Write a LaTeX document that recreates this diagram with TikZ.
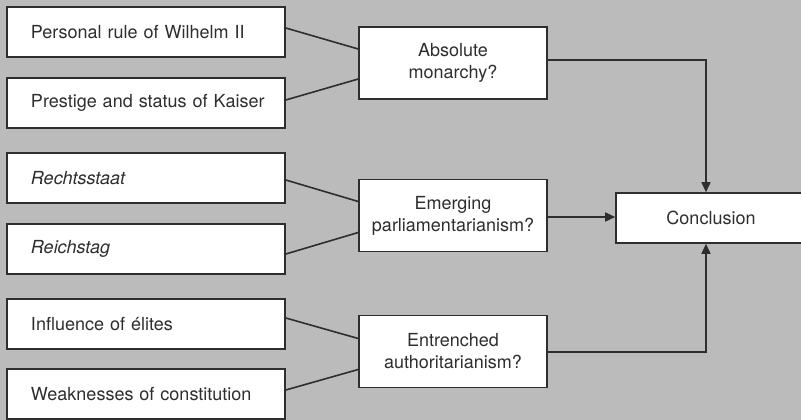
\documentclass[tikz,border=0pt]{standalone}
\usepackage{fontspec}
\setmainfont{TeX Gyre Heros}
\usetikzlibrary{arrows.meta,calc}
\definecolor{bg}{HTML}{BBBBBB}
\definecolor{ink}{HTML}{2E2E2E}
\begin{document}
\begin{tikzpicture}[x=1pt,y=-1pt,
  font=\fontsize{18}{22}\selectfont,
  every node/.style={text=ink},
  factor/.style={draw=ink,line width=1.6pt,fill=white,minimum height=50pt,
    text width=254pt,inner xsep=12pt,align=left,anchor=center,
    execute at begin node={\hspace*{12pt}}},
  question/.style={draw=ink,line width=1.6pt,fill=white,minimum width=188pt,
    minimum height=72pt,align=center,anchor=center},
  result/.style={draw=ink,line width=1.6pt,fill=white,minimum width=190pt,
    minimum height=50pt,align=center,anchor=center},
  link/.style={draw=ink,line width=1.6pt},
  flow/.style={draw=ink,line width=1.6pt,-{Triangle[length=10pt,width=9pt]}}]
  % background and frame
  \fill[bg] (0,0) rectangle (801,420);
  \useasboundingbox (0,0) rectangle (801,420);
  \clip (0,0) rectangle (801,420);

  % factors
  \node[factor] (b1) at (146,32)  {Personal rule of Wilhelm II};
  \node[factor] (b2) at (146,103) {Prestige and status of Kaiser};
  \node[factor] (b3) at (146,178) {\itshape Rechtsstaat};
  \node[factor] (b4) at (146,249) {\itshape Reichstag};
  \node[factor] (b5) at (146,324) {Influence of élites};
  \node[factor] (b6) at (146,394) {Weaknesses of constitution};

  % interpretations
  \node[question] (m1) at (453,63)    {Absolute\\monarchy?};
  \node[question] (m2) at (453,215.5) {Emerging\\parliamentarianism?};
  \node[question] (m3) at (453,351.5) {Entrenched\\authoritarianism?};

  % conclusion
  \node[result] (c) at (711,218) {Conclusion};
  \coordinate (cx) at (706,218);

  % factor links (yshift is in page units: positive is upwards)
  \draw[link] ([yshift=4pt]b1.east)  -- ([yshift=14pt]m1.west);
  \draw[link] ([yshift=3pt]b2.east)  -- ([yshift=-16pt]m1.west);
  \draw[link] ([yshift=-2pt]b3.east) -- ([yshift=14pt]m2.west);
  \draw[link] ([yshift=-5pt]b4.east) -- ([yshift=-17pt]m2.west);
  \draw[link] ([yshift=6pt]b5.east)  -- ([yshift=13pt]m3.west);
  \draw[link] ([yshift=4pt]b6.east)  -- ([yshift=-18pt]m3.west);

  % arrows into the conclusion
  \draw[flow] ([yshift=3pt]m1.east) -| (cx |- c.north);
  \draw[flow] ([yshift=-1.5pt]m2.east) -- ([yshift=-1.5pt]m2.east -| c.west);
  \draw[flow] ([yshift=-0.5pt]m3.east) -| (cx |- c.south);
\end{tikzpicture}
\end{document}
